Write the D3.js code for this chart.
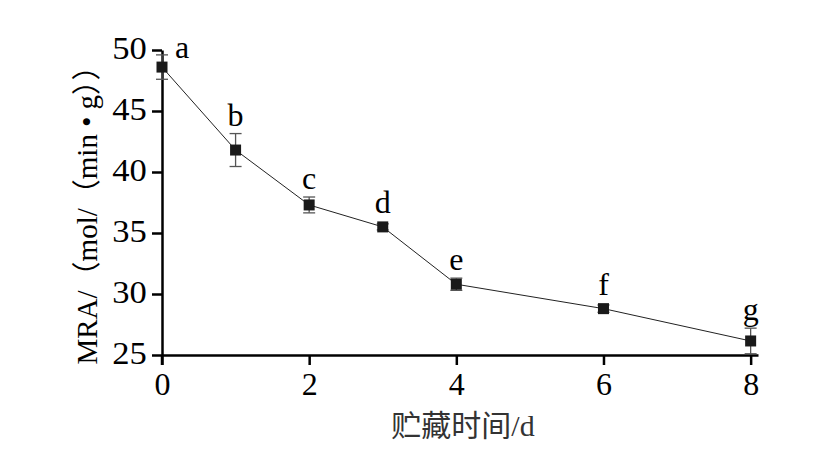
<!DOCTYPE html>
<html>
<head>
<meta charset="utf-8">
<script src="https://cdn.jsdelivr.net/npm/d3@7"></script>
<style>
body{margin:0;background:#fff;}
svg{display:block;}
</style>
</head>
<body>
<svg id="chart" width="838" height="451"></svg>
<script>
const days = [0, 1, 2, 3, 4, 6, 8];
const mra = [48.6, 41.8, 37.3, 35.5, 30.8, 28.8, 26.15];
const errs = [1.0, 1.35, 0.65, 0.25, 0.5, 0.3, 1.05];
const sigLetters = ["a", "b", "c", "d", "e", "f", "g"];
const xTicks = [0, 2, 4, 6, 8];
const yTicks = [25, 30, 35, 40, 45, 50];

const svg = d3.select("#chart");
const serif = "'Liberation Serif','Times New Roman',serif";
const x = d3.scaleLinear().domain([0, 8.1]).range([162, 758]);
const y = d3.scaleLinear().domain([25, 50]).range([355, 50]);

const data = days.map((d, i) => ({d, v: mra[i], e: errs[i], s: sigLetters[i]}));

// axes
const xAxis = svg.append("g").attr("transform", "translate(0,355)")
  .call(d3.axisBottom(x).tickValues(xTicks).tickSize(10).tickSizeOuter(0).tickFormat(d3.format("d")));
const yAxis = svg.append("g").attr("transform", "translate(162,0)")
  .call(d3.axisLeft(y).tickValues(yTicks).tickSize(10).tickSizeOuter(0));
[xAxis, yAxis].forEach(g => {
  g.selectAll("path.domain").attr("stroke", "#000").attr("stroke-width", 2.5);
  g.selectAll(".tick line").attr("stroke", "#000").attr("stroke-width", 2.5);
  g.selectAll(".tick text").attr("font-family", serif).attr("font-size", 32).attr("fill", "#000");
});
xAxis.selectAll(".tick text").attr("y", 40).attr("dy", 0);
yAxis.selectAll(".tick text").attr("x", -14).attr("dy", "0.27em")
  .attr("transform", "scale(1.08,1)");
// extend y axis a bit below x axis
yAxis.append("line").attr("x1", 0).attr("x2", 0).attr("y1", 355).attr("y2", 365)
  .attr("stroke", "#000").attr("stroke-width", 2.5);

// line
svg.append("path").datum(data)
  .attr("fill", "none").attr("stroke", "#222").attr("stroke-width", 1)
  .attr("d", d3.line().x(d => x(d.d)).y(d => y(d.v)));

// error bars
const eb = svg.append("g").attr("stroke", "#555").attr("stroke-width", 1.3);
data.forEach(d => {
  const cx = x(d.d);
  eb.append("line").attr("x1", cx).attr("x2", cx).attr("y1", y(d.v + d.e)).attr("y2", y(d.v - d.e));
  eb.append("line").attr("x1", cx - 6).attr("x2", cx + 6).attr("y1", y(d.v + d.e)).attr("y2", y(d.v + d.e));
  eb.append("line").attr("x1", cx - 6).attr("x2", cx + 6).attr("y1", y(d.v - d.e)).attr("y2", y(d.v - d.e));
});

// markers
svg.append("g").selectAll("rect").data(data).join("rect")
  .attr("x", d => x(d.d) - 5.5).attr("y", d => y(d.v) - 5.5)
  .attr("width", 11).attr("height", 11).attr("fill", "#1a1a1a");

// significance letters
svg.append("g").selectAll("text").data(data).join("text")
  .attr("x", (d, i) => x(d.d) + (i === 0 ? 20 : 0))
  .attr("y", (d, i) => i === 0 ? 58 : Math.min(y(d.v + d.e), y(d.v) - 5.5) - 8)
  .attr("text-anchor", "middle")
  .attr("font-family", serif).attr("font-size", 32).attr("fill", "#000")
  .text(d => d.s);

// axis titles
svg.append("text")
  .attr("transform", "translate(97,208) rotate(-90)")
  .attr("text-anchor", "middle")
  .attr("font-family", serif + ",'Noto Sans CJK SC'").attr("font-size", 29).attr("fill", "#000")
  .text("MRA/（mol/（min • g））");

svg.append("text")
  .attr("x", 463).attr("y", 436)
  .attr("text-anchor", "middle")
  .attr("font-family", "'Liberation Serif','Noto Sans CJK SC',serif").attr("font-size", 30).attr("fill", "#333")
  .text("贮藏时间/d");
</script>
</body>
</html>
